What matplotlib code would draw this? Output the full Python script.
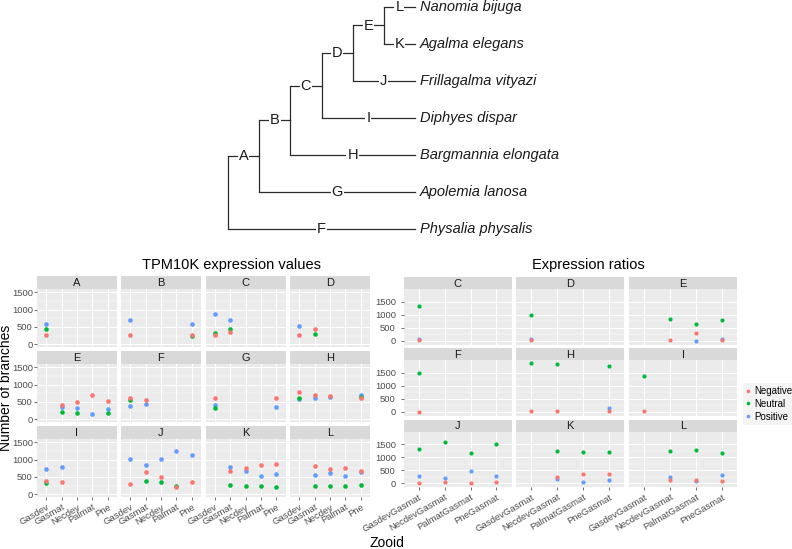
import matplotlib
matplotlib.use('Agg')

import matplotlib.pyplot as plt
from matplotlib.lines import Line2D

plt.rcParams['font.family'] = ['Liberation Sans', 'DejaVu Sans']

W, H = 792, 549

# tree: (edge label, children or tip name), drawn as a cladogram
TREE = ('', [('A', [('B', [('C', [('D', [('E', [('L', 'Nanomia bijuga'),
                                                ('K', 'Agalma elegans')]),
                                         ('J', 'Frillagalma vityazi')]),
                                  ('I', 'Diphyes dispar')]),
                           ('H', 'Bargmannia elongata')]),
                    ('G', 'Apolemia lanosa')]),
             ('F', 'Physalia physalis')])
TIP_DEPTH = 6

# TPM10K expression values, one value per zooid (None = no point)
zooids = ['Gasdev', 'Gasmat', 'Necdev', 'Palmat', 'Pne']
tpm_nodes = ['A', 'B', 'C', 'D', 'E', 'F', 'G', 'H', 'I', 'J', 'K', 'L']
tpm_neg = {
    'A': [273, None, None, None, None],
    'B': [283, None, None, None, 283],
    'C': [255, 358, None, None, None],
    'D': [264, 443, None, None, None],
    'E': [None, 410, 497, 707, 535],
    'F': [621, 554, None, None, None],
    'G': [602, None, None, None, 611],
    'H': [774, 707, 659, None, 602],
    'I': [375, 366, None, None, None],
    'J': [300, 638, 488, 216, 366],
    'K': [None, 657, 750, 854, 872],
    'L': [None, 807, 722, 769, 675],
}
tpm_neu = {
    'A': [443, None, None, None, None],
    'B': [None, None, None, None, 236],
    'C': [330, 434, None, None, None],
    'D': [None, 311, None, None, None],
    'E': [None, 210, 191, None, 191],
    'F': [563, None, None, None, None],
    'G': [325, None, None, None, None],
    'H': [611, None, None, None, 650],
    'I': [338, None, None, None, None],
    'J': [None, 394, 366, 244, None],
    'K': [None, 263, 253, 235, 225],
    'L': [None, 244, 244, 244, 263],
}
tpm_pos = {
    'A': [585, None, None, None, None],
    'B': [698, None, None, None, 585],
    'C': [877, 698, None, None, None],
    'D': [538, None, None, None, None],
    'E': [None, 363, 315, 143, 287],
    'F': [382, 439, None, None, None],
    'G': [420, None, None, None, 363],
    'H': [583, 621, 635, None, 707],
    'I': [741, 779, None, None, None],
    'J': [1004, 835, 1013, 1248, 1135],
    'K': [None, 779, 675, 525, 582],
    'L': [None, 553, 619, 516, 656],
}

# expression ratios
pairs = ['GasdevGasmat', 'NecdevGasmat', 'PalmatGasmat', 'PneGasmat']
ratio_nodes = ['C', 'D', 'E', 'F', 'H', 'I', 'J', 'K', 'L']
ratio_neg = {
    'C': [20, None, None, None],
    'D': [15, None, None, None],
    'E': [None, 40, 276, 40],
    'F': [0, None, None, None],
    'H': [25, 40, None, 40],
    'I': [27, None, None, None],
    'J': [13, 40, 13, 40],
    'K': [None, 223, 354, 354],
    'L': [None, 105, 118, 79],
}
ratio_neu = {
    'C': [1355, None, None, None],
    'D': [987, None, None, None],
    'E': [None, 829, 632, 816],
    'F': [1500, None, None, None],
    'H': [1873, 1823, None, 1757],
    'I': [1385, None, None, None],
    'J': [1310, 1585, 1179, 1520],
    'K': [None, 1258, 1192, 1205],
    'L': [None, 1258, 1284, 1166],
}
ratio_pos = {
    'C': [75, None, None, None],
    'D': [66, None, None, None],
    'E': [None, None, 0, 50],
    'F': [None, None, None, None],
    'H': [None, None, None, 130],
    'I': [None, None, None, None],
    'J': [262, 196, 472, 275],
    'K': [None, 157, 39, 105],
    'L': [None, 223, 92, 328],
}

RED, GREEN, BLUE = '#F8766D', '#00BA38', '#619CFF'


def px_box(left, top, right, bottom):
    return [left / W, 1 - bottom / H, (right - left) / W, (bottom - top) / H]


fig = plt.figure(figsize=(W / 100, H / 100), dpi=100)

# ---- tree ----
tip_names, edges, verts = [], [], []


def layout(node, depth):
    label, kids = node
    if isinstance(kids, str):
        y = len(tip_names)
        tip_names.append(kids)
        return TIP_DEPTH, y
    pts = [layout(k, depth + 1) for k in kids]
    ys = [p[1] for p in pts]
    verts.append((depth, min(ys), max(ys)))
    for k, (cx, cy) in zip(kids, pts):
        edges.append((depth, cx, cy, k[0]))
    return depth, sum(ys) / len(ys)


layout(TREE, 0)

tax = fig.add_axes(px_box(228, 7, 415, 229))
tax.set_xlim(0, TIP_DEPTH)
tax.set_ylim(len(tip_names) - 1, 0)
tax.axis('off')
for x, y0, y1 in verts:
    tax.plot([x, x], [y0, y1], color='#2B2B2B', lw=0.9, clip_on=False,
             solid_capstyle='butt')
for x0, x1, y, lab in edges:
    tax.plot([x0, x1], [y, y], color='#2B2B2B', lw=0.9, clip_on=False)
    tax.text((x0 + x1) / 2, y, lab, ha='center', va='center', fontsize=10.5,
             color='#1A1A1A', bbox=dict(fc='white', ec='none', pad=0.6))
for i, name in enumerate(tip_names):
    tax.annotate(name, (TIP_DEPTH, i), xytext=(3.5, 0), textcoords='offset points',
                 ha='left', va='center', fontsize=10.5, style='italic', color='#1A1A1A')


# ---- facets ----
def facet(left, top, width, strip_h, plot_h, name, cats, neg, neu, pos,
          ylim, show_x, show_y, ypad, dot):
    sax = fig.add_axes(px_box(left, top, left + width, top + strip_h))
    sax.set_facecolor('#D9D9D9')
    sax.set_xticks([])
    sax.set_yticks([])
    for s in sax.spines.values():
        s.set_visible(False)
    sax.text(0.5, 0.45, name, ha='center', va='center', fontsize=8,
             color='#1A1A1A', transform=sax.transAxes)

    ax = fig.add_axes(px_box(left, top + strip_h, left + width, top + strip_h + plot_h))
    ax.set_facecolor('#EBEBEB')
    for s in ax.spines.values():
        s.set_visible(False)
    for data, color in [(pos, BLUE), (neu, GREEN), (neg, RED)]:
        vals = data.get(name, [])
        xs = [i for i, v in enumerate(vals) if v is not None]
        ys = [v for v in vals if v is not None]
        ax.scatter(xs, ys, s=dot, color=color, lw=0, zorder=3)
    ax.set_xlim(-0.6, len(cats) - 0.4)
    ax.set_ylim(*ylim)
    ax.set_xticks(range(len(cats)))
    ax.set_yticks([0, 500, 1000, 1500])
    ax.set_yticks([250, 750, 1250], minor=True)
    ax.set_axisbelow(True)
    ax.grid(which='major', color='white', lw=0.75)
    ax.grid(which='minor', axis='y', color='white', lw=0.35)
    ax.tick_params(which='minor', length=0)
    ax.tick_params(which='major', length=2.5, width=0.5, color='#333333',
                   labelsize=6.8, labelcolor='#4D4D4D',
                   bottom=show_x, labelbottom=show_x, left=show_y, labelleft=show_y)
    ax.tick_params(axis='y', pad=ypad)
    ax.tick_params(axis='x', pad=1.5)
    if show_x:
        ax.set_xticklabels(cats, rotation=30, ha='right', va='top',
                           rotation_mode='anchor')
    return ax


# left block: 4 x 3
lcols = [37, 121, 205.5, 290]
lrows = [276, 351, 426]
for k, node in enumerate(tpm_nodes):
    r, c = divmod(k, 4)
    facet(lcols[c], lrows[r], 80, 13, 58, node, zooids, tpm_neg, tpm_neu, tpm_pos,
          (-76, 1590), r == 2, c == 0, 0.5, 11)

# right block: 3 x 3
rcols = [403.5, 516, 629]
rrows = [277, 348, 419.5]
for k, node in enumerate(ratio_nodes):
    r, c = divmod(k, 3)
    facet(rcols[c], rrows[r], 108.3, 12, 55.5, node, pairs, ratio_neg, ratio_neu,
          ratio_pos, (-150, 1995), r == 2, c == 0, 3, 9)

fig.text(232 / W, 1 - 265 / H, 'TPM10K expression values', ha='center', va='center',
         fontsize=10.5, color='black')
fig.text(588 / W, 1 - 265 / H, 'Expression ratios', ha='center', va='center',
         fontsize=10.5, color='black')
fig.text(6 / W, 1 - 388 / H, 'Number of branches', rotation=90, ha='center',
         va='center', fontsize=10)
fig.text(387 / W, 1 - 543 / H, 'Zooid', ha='center', va='center', fontsize=10)

handles = [Line2D([], [], ls='none', marker='o', ms=2.6, mec='none', mfc=c)
           for c in (RED, GREEN, BLUE)]
fig.legend(handles, ['Negative', 'Neutral', 'Positive'], loc='upper left',
           bbox_to_anchor=(743 / W, 1 - 383 / H), frameon=True, facecolor='#F2F2F2',
           edgecolor='none', fancybox=False, fontsize=7, handlelength=0.5,
           handletextpad=0.35, borderpad=0.3, labelspacing=0.3, borderaxespad=0)

fig.savefig('out.png', dpi=100)
